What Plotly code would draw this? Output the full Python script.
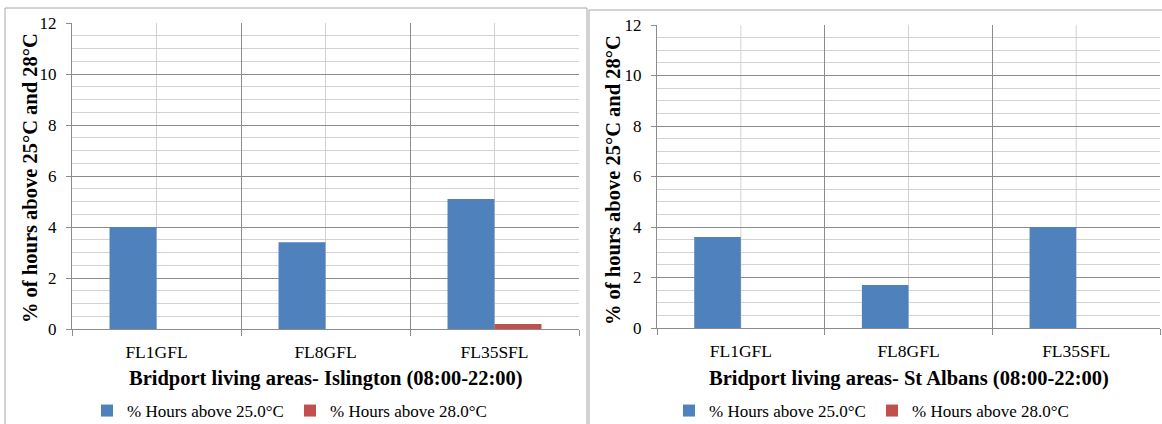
import plotly.graph_objects as go

W, H = 1162, 424

# ---- data ----
categories = ["FL1GFL", "FL8GFL", "FL35SFL"]
islington_above25 = [4.0, 3.4, 5.1]
islington_above28 = [0.0, 0.0, 0.2]
stalbans_above25 = [3.6, 1.7, 4.0]
stalbans_above28 = [0.0, 0.0, 0.0]
series_names = ["% Hours above 25.0°C", "% Hours above 28.0°C"]
x_titles = ["Bridport living areas- Islington (08:00-22:00)",
            "Bridport living areas- St Albans (08:00-22:00)"]
y_title = "% of hours above 25°C and 28°C"

# ---- style ----
FONT = "Liberation Serif"
BLUE = "#4F81BD"
RED = "#C0504D"
DARK = "#8c8c8c"
LIGHT = "#d2d2d2"
BORDER = "#a6a6a6"

fig = go.Figure()

panels = [
    dict(xa="x", ya="y", leg="legend", v25=islington_above25, v28=islington_above28),
    dict(xa="x2", ya="y2", leg="legend2", v25=stalbans_above25, v28=stalbans_above28),
]
for p in panels:
    for name, vals, col in [(series_names[0], p["v25"], BLUE), (series_names[1], p["v28"], RED)]:
        fig.add_trace(go.Bar(
            x=categories, y=vals, name=name, marker=dict(color=col, line=dict(width=0)),
            xaxis=p["xa"], yaxis=p["ya"], legend=p["leg"], hoverinfo="x+y+name",
        ))

def xaxis_cfg(domain, anchor):
    return dict(
        domain=domain, anchor=anchor, type="category", tickson="boundaries",
        showgrid=True, gridcolor=DARK, gridwidth=1,
        ticks="outside", ticklen=6, tickcolor=DARK,
        showline=True, linecolor=DARK, linewidth=1,
        tickfont=dict(family=FONT, size=17.5, color="black"),
        ticklabelstandoff=7, fixedrange=True, automargin=False,
    )

def yaxis_cfg(domain, anchor):
    return dict(
        domain=domain, anchor=anchor, range=[0, 12], tickmode="linear", tick0=0, dtick=2,
        showgrid=True, gridcolor=DARK, gridwidth=1, zeroline=False,
        minor=dict(dtick=0.5, tick0=0, showgrid=True, gridcolor=LIGHT, ticks=""),
        ticks="outside", ticklen=5, tickcolor=DARK,
        showline=True, linecolor=DARK, linewidth=1,
        tickfont=dict(family=FONT, size=17, color="black"),
        ticklabelstandoff=6, fixedrange=True, automargin=False,
    )

shapes = []
# panel frames
shapes.append(dict(type="rect", xref="paper", yref="paper",
                   x0=5 / W, x1=587 / W, y0=-0.1, y1=1 - 8 / H,
                   line=dict(color=BORDER, width=1), fillcolor="rgba(0,0,0,0)", layer="below"))
shapes.append(dict(type="rect", xref="paper", yref="paper",
                   x0=589 / W, x1=1.05, y0=-0.1, y1=1 - 10 / H,
                   line=dict(color=BORDER, width=1), fillcolor="rgba(0,0,0,0)", layer="below"))
# light gridlines at category centres
for xa, ya in [("x", "y"), ("x2", "y2")]:
    for c in categories:
        shapes.append(dict(type="line", xref=xa, yref=ya + " domain",
                           x0=c, x1=c, y0=0, y1=1, line=dict(color=LIGHT, width=1), layer="below"))

annotations = []
for xc, title in zip([325.5 / W, 908.5 / W], x_titles):
    annotations.append(dict(text="<b>" + title + "</b>", xref="paper", yref="paper",
                            x=xc, y=1 - 378 / H, xanchor="center", yanchor="middle",
                            showarrow=False, font=dict(family=FONT, size=20.5, color="black")))
for xc, yc in [(30 / W, 1 - 178 / H), (613 / W, 1 - 180 / H)]:
    annotations.append(dict(text="<b>" + y_title + "</b>", xref="paper", yref="paper",
                            x=xc, y=yc, xanchor="center", yanchor="middle", textangle=-90,
                            showarrow=False, font=dict(family=FONT, size=20.5, color="black")))

legend_common = dict(orientation="h", xanchor="left", yanchor="middle",
                     xref="container", yref="container",
                     font=dict(family=FONT, size=17, color="black"),
                     bgcolor="rgba(0,0,0,0)", borderwidth=0, itemwidth=30,
                     entrywidth=158, entrywidthmode="pixels",
                     traceorder="normal")

fig.update_layout(
    width=W, height=H, autosize=False,
    margin=dict(l=0, r=0, t=0, b=0, autoexpand=False),
    paper_bgcolor="white", plot_bgcolor="white",
    font=dict(family=FONT, color="black"),
    barmode="group", bargap=0.444, bargroupgap=0,
    xaxis=xaxis_cfg([72 / W, 579 / W], "y"),
    yaxis=yaxis_cfg([1 - 329 / H, 1 - 23 / H], "x"),
    xaxis2=xaxis_cfg([657 / W, 1160 / W], "y2"),
    yaxis2=yaxis_cfg([1 - 328 / H, 1 - 25 / H], "x2"),
    legend=dict(legend_common, x=87 / W, y=1 - 411 / H),
    legend2=dict(legend_common, x=669 / W, y=1 - 411 / H),
    shapes=shapes, annotations=annotations,
    showlegend=True,
)

fig.write_html("out.html")
